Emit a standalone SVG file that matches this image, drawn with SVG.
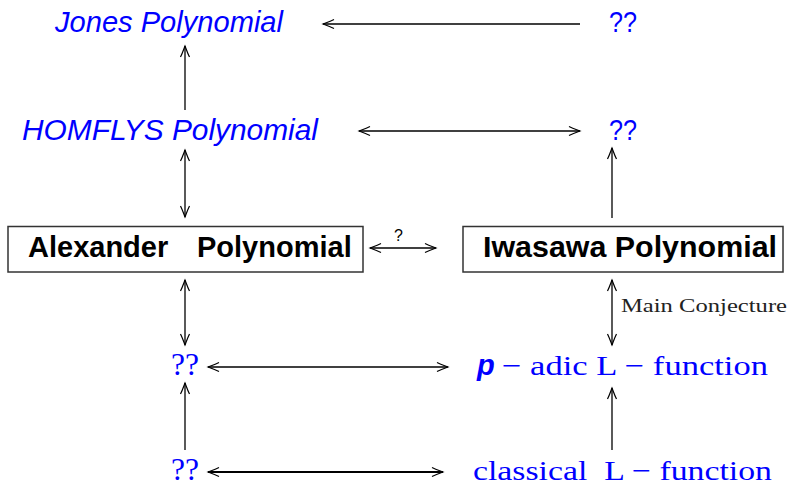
<svg xmlns="http://www.w3.org/2000/svg" width="790" height="484" viewBox="0 0 790 484">
<style>
.sansI{font-family:"Liberation Sans",Arial,sans-serif;font-style:italic;fill:#0000ff;font-size:29px}
.sans{font-family:"Liberation Sans",Arial,sans-serif;fill:#0000ff;font-size:30px}
.bold{font-family:"Liberation Sans",Arial,sans-serif;font-weight:bold;fill:#000;font-size:29px}
.serif{font-family:"Liberation Serif","Times New Roman",serif;fill:#0000ff;font-size:28px}
.qq{font-family:"Liberation Serif","Times New Roman",serif;fill:#0000ff;font-size:32px}
.lbl{font-family:"Liberation Serif","Times New Roman",serif;fill:#222;font-size:18px}
.q{font-family:"Liberation Sans",Arial,sans-serif;fill:#000;font-size:16px}
.box{fill:#fff;stroke:#333;stroke-width:1.5}
.c line{stroke:#000;stroke-width:1.3;fill:none}
.one{marker-end:url(#ah)}
.two{marker-start:url(#ah);marker-end:url(#ah)}
</style>
<defs>
<marker id="ah" viewBox="-12 -6 14 12" refX="0" refY="0" markerWidth="14" markerHeight="12" markerUnits="userSpaceOnUse" orient="auto-start-reverse">
<path d="M-11,-4.5 C-7,-2.5 -2,-0.8 0,0 C-2,0.8 -7,2.5 -11,4.5" fill="none" stroke="#000" stroke-width="1.2"/>
</marker>
</defs>
<rect width="790" height="484" fill="#fff"/>
<g id="jones"><text class="sansI" x="55" y="32" textLength="228" lengthAdjust="spacingAndGlyphs">Jones Polynomial</text></g>
<g id="q1"><text class="sans" x="609" y="32" textLength="28" lengthAdjust="spacingAndGlyphs">??</text></g>
<g id="homflys"><text class="sansI" x="22" y="140" textLength="296" lengthAdjust="spacingAndGlyphs">HOMFLYS Polynomial</text></g>
<g id="q2"><text class="sans" x="609" y="140" textLength="28" lengthAdjust="spacingAndGlyphs">??</text></g>
<g id="alexander">
<rect class="box" x="8" y="226.5" width="355" height="45.5"/>
<text class="bold" y="257"><tspan x="28">Alexander</tspan><tspan x="197">Polynomial</tspan></text>
</g>
<g id="iwasawa">
<rect class="box" x="463" y="226.5" width="320" height="45.5"/>
<text class="bold" x="483" y="257" textLength="294" lengthAdjust="spacingAndGlyphs">Iwasawa Polynomial</text>
</g>
<g id="q3"><text class="qq" x="171" y="375" textLength="28" lengthAdjust="spacingAndGlyphs">??</text></g>
<g id="padic">
<text class="sansI" x="477" y="375" font-weight="bold" font-size="27">p</text>
<text class="serif" x="502" y="375" textLength="266" lengthAdjust="spacingAndGlyphs">− adic L − function</text>
</g>
<g id="q4"><text class="qq" x="171" y="480" textLength="28" lengthAdjust="spacingAndGlyphs">??</text></g>
<g id="classical"><text class="serif" x="473" y="480" textLength="299" lengthAdjust="spacingAndGlyphs" xml:space="preserve">classical  L − function</text></g>
<g id="connectors" class="c">
<line class="one" x1="580" y1="24" x2="323" y2="24"/>
<line class="two" x1="359" y1="131" x2="580" y2="131"/>
<line class="one" x1="185" y1="110" x2="185" y2="46"/>
<line class="two" x1="185" y1="150" x2="185" y2="217"/>
<line class="one" x1="612" y1="218" x2="612" y2="148"/>
<line class="two" x1="370" y1="248" x2="436" y2="248"/>
<text class="q" x="394" y="241">?</text>
<line class="two" x1="185" y1="280" x2="185" y2="345"/>
<line class="two" x1="612" y1="280" x2="612" y2="345"/>
<text class="lbl" x="621" y="312" textLength="166" lengthAdjust="spacingAndGlyphs">Main Conjecture</text>
<line class="two" x1="208" y1="367" x2="448" y2="367"/>
<line class="one" x1="185" y1="450" x2="185" y2="383"/>
<line class="one" x1="612" y1="450" x2="612" y2="388"/>
<line class="two" x1="208" y1="472" x2="443" y2="472" style="stroke-width:1.8"/>
</g>
</svg>
